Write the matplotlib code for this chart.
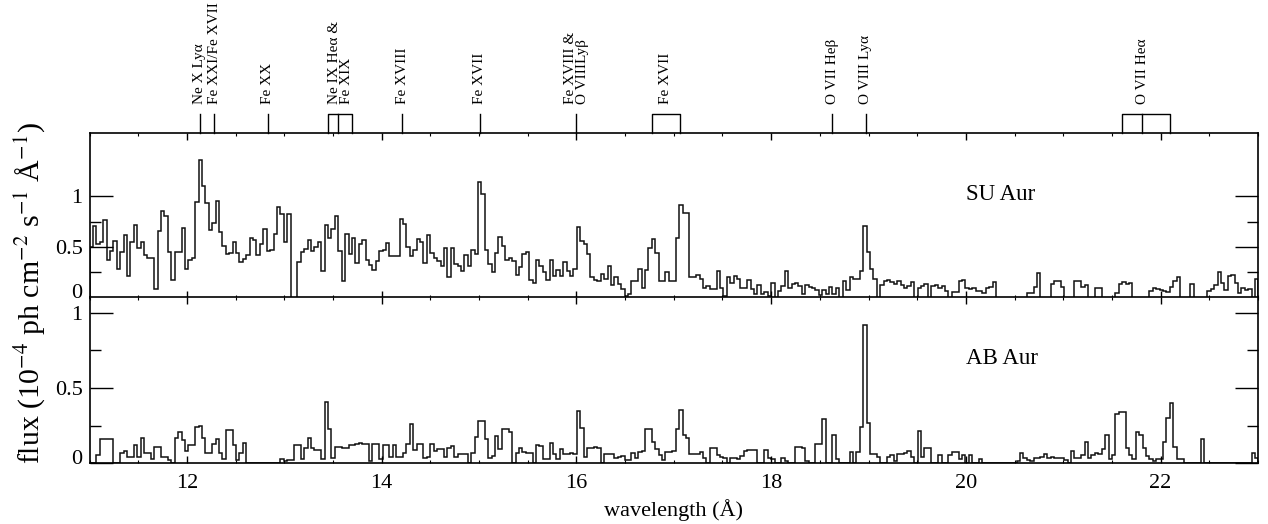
import numpy as np
import matplotlib
matplotlib.use("Agg")
import matplotlib.pyplot as plt
from matplotlib.ticker import FixedLocator, MultipleLocator
from matplotlib.transforms import ScaledTranslation

# RGS fluxed spectra, 10^-4 ph cm^-2 s^-1 A^-1, bins of 0.035 A starting at 11 A
bin_start = 11.0
bin_width = 0.035

su_aur = [
    0.50, 0.71, 0.53, 0.55, 0.77, 0.37, 0.46, 0.56, 0.28, 0.45,
    0.62, 0.21, 0.55, 0.72, 0.49, 0.55, 0.42, 0.39, 0.39, 0.08,
    0.66, 0.85, 0.81, 0.45, 0.17, 0.45, 0.45, 0.69, 0.28, 0.37,
    0.39, 0.94, 1.36, 1.10, 0.93, 0.67, 0.74, 0.95, 0.65, 0.51,
    0.43, 0.44, 0.55, 0.44, 0.35, 0.38, 0.42, 0.59, 0.57, 0.42,
    0.53, 0.68, 0.46, 0.47, 0.63, 0.89, 0.82, 0.55, 0.82, 0.00,
    0.00, 0.35, 0.45, 0.48, 0.57, 0.46, 0.50, 0.55, 0.26, 0.72,
    0.59, 0.68, 0.81, 0.46, 0.16, 0.63, 0.43, 0.59, 0.34, 0.53,
    0.57, 0.37, 0.32, 0.27, 0.36, 0.46, 0.47, 0.54, 0.41, 0.41,
    0.41, 0.78, 0.73, 0.50, 0.41, 0.47, 0.58, 0.55, 0.34, 0.62,
    0.44, 0.39, 0.36, 0.31, 0.49, 0.20, 0.49, 0.33, 0.31, 0.26,
    0.42, 0.31, 0.47, 0.43, 1.14, 1.02, 0.47, 0.33, 0.25, 0.44,
    0.60, 0.51, 0.37, 0.39, 0.36, 0.22, 0.30, 0.43, 0.45, 0.17,
    0.14, 0.37, 0.31, 0.25, 0.17, 0.37, 0.21, 0.27, 0.21, 0.35,
    0.26, 0.21, 0.28, 0.70, 0.56, 0.53, 0.43, 0.20, 0.17, 0.16,
    0.23, 0.18, 0.31, 0.12, 0.20, 0.13, 0.08, 0.01, 0.03, 0.16,
    0.16, 0.28, 0.09, 0.27, 0.49, 0.58, 0.44, 0.16, 0.16, 0.25,
    0.16, 0.16, 0.59, 0.91, 0.83, 0.83, 0.20, 0.20, 0.22, 0.18,
    0.09, 0.11, 0.08, 0.08, 0.26, 0.09, 0.01, 0.20, 0.14, 0.21,
    0.18, 0.09, 0.09, 0.17, 0.08, 0.03, 0.12, 0.03, 0.05, 0.01,
    0.14, 0.00, 0.06, 0.11, 0.26, 0.09, 0.13, 0.14, 0.11, 0.03,
    0.12, 0.10, 0.09, 0.07, 0.02, 0.07, 0.03, 0.10, 0.03, 0.09,
    0.00, 0.16, 0.07, 0.20, 0.18, 0.18, 0.26, 0.71, 0.45, 0.28,
    0.18, 0.00, 0.12, 0.16, 0.17, 0.15, 0.13, 0.16, 0.12, 0.09,
    0.11, 0.15, 0.00, 0.09, 0.11, 0.13, 0.00, 0.11, 0.12, 0.09,
    0.11, 0.06, 0.00, 0.05, 0.05, 0.16, 0.17, 0.09, 0.08, 0.09,
    0.06, 0.06, 0.04, 0.09, 0.10, 0.15, 0.00, 0.00, 0.00, 0.00,
    0.00, 0.00, 0.00, 0.00, 0.00, 0.04, 0.04, 0.10, 0.24, 0.00,
    0.00, 0.00, 0.13, 0.16, 0.16, 0.10, 0.00, 0.00, 0.00, 0.16,
    0.16, 0.10, 0.12, 0.00, 0.00, 0.09, 0.09, 0.00, 0.00, 0.00,
    0.00, 0.04, 0.13, 0.15, 0.13, 0.14, 0.00, 0.00, 0.00, 0.00,
    0.00, 0.06, 0.09, 0.08, 0.07, 0.06, 0.05, 0.10, 0.16, 0.20,
    0.00, 0.00, 0.00, 0.13, 0.00, 0.00, 0.00, 0.00, 0.06, 0.08,
    0.12, 0.25, 0.14, 0.07, 0.21, 0.22, 0.14, 0.04, 0.09, 0.07,
    0.08, 0.00, 0.18,
]

ab_aur = [
    0.00, 0.00, 0.055, 0.16, 0.16, 0.16, 0.16, 0.00, 0.00, 0.066,
    0.08, 0.04, 0.04, 0.12, 0.045, 0.17, 0.066, 0.066, 0.03, 0.11,
    0.11, 0.045, 0.045, 0.02, 0.00, 0.17, 0.21, 0.155, 0.08, 0.12,
    0.12, 0.24, 0.245, 0.165, 0.066, 0.066, 0.126, 0.16, 0.066, 0.03,
    0.22, 0.22, 0.12, 0.02, 0.066, 0.137, 0.00, 0.00, 0.00, 0.00,
    0.00, 0.00, 0.00, 0.00, 0.00, 0.00, 0.027, 0.015, 0.02, 0.02,
    0.12, 0.12, 0.027, 0.10, 0.17, 0.104, 0.088, 0.088, 0.027, 0.41,
    0.23, 0.033, 0.11, 0.11, 0.104, 0.10, 0.12, 0.12, 0.13, 0.137,
    0.13, 0.126, 0.015, 0.126, 0.126, 0.027, 0.12, 0.12, 0.044, 0.12,
    0.044, 0.044, 0.066, 0.126, 0.26, 0.088, 0.126, 0.126, 0.033, 0.044,
    0.126, 0.08, 0.095, 0.095, 0.044, 0.10, 0.117, 0.044, 0.06, 0.06,
    0.06, 0.00, 0.066, 0.177, 0.283, 0.283, 0.16, 0.033, 0.05, 0.18,
    0.095, 0.228, 0.228, 0.206, 0.00, 0.066, 0.10, 0.073, 0.066, 0.066,
    0.00, 0.12, 0.117, 0.029, 0.029, 0.133, 0.06, 0.029, 0.095, 0.06,
    0.06, 0.066, 0.06, 0.35, 0.237, 0.044, 0.104, 0.104, 0.11, 0.104,
    0.00, 0.06, 0.06, 0.06, 0.033, 0.04, 0.05, 0.022, 0.022, 0.066,
    0.033, 0.073, 0.08, 0.228, 0.228, 0.144, 0.095, 0.055, 0.022, 0.077,
    0.077, 0.08, 0.228, 0.354, 0.19, 0.17, 0.062, 0.06, 0.06, 0.073,
    0.033, 0.00, 0.104, 0.104, 0.055, 0.044, 0.033, 0.00, 0.038, 0.038,
    0.029, 0.05, 0.08, 0.088, 0.088, 0.088, 0.00, 0.00, 0.088, 0.033,
    0.027, 0.00, 0.00, 0.038, 0.015, 0.00, 0.00, 0.11, 0.11, 0.104,
    0.015, 0.00, 0.00, 0.126, 0.126, 0.294, 0.00, 0.00, 0.19, 0.027,
    0.00, 0.00, 0.00, 0.073, 0.00, 0.073, 0.243, 0.918, 0.27, 0.06,
    0.06, 0.044, 0.00, 0.00, 0.044, 0.055, 0.015, 0.06, 0.06, 0.066,
    0.08, 0.044, 0.00, 0.215, 0.044, 0.104, 0.104, 0.00, 0.00, 0.055,
    0.00, 0.00, 0.055, 0.077, 0.073, 0.027, 0.055, 0.00, 0.055, 0.00,
    0.00, 0.03, 0.00, 0.00, 0.00, 0.00, 0.00, 0.00, 0.00, 0.00,
    0.00, 0.00, 0.015, 0.066, 0.033, 0.022, 0.015, 0.033, 0.033, 0.044,
    0.06, 0.038, 0.044, 0.038, 0.033, 0.038, 0.022, 0.00, 0.08, 0.033,
    0.033, 0.055, 0.144, 0.033, 0.055, 0.066, 0.06, 0.095, 0.19, 0.03,
    0.055, 0.325, 0.343, 0.343, 0.104, 0.055, 0.027, 0.206, 0.188, 0.10,
    0.05, 0.029, 0.015, 0.027, 0.027, 0.144, 0.303, 0.40, 0.11, 0.027,
    0.027, 0.00, 0.00, 0.00, 0.00, 0.00, 0.16, 0.00, 0.00, 0.00,
    0.00, 0.00, 0.00, 0.00, 0.00, 0.00, 0.00, 0.00, 0.00, 0.00,
    0.00, 0.066, 0.033,
]

# line identifications above the top panel
line_labels = ["Ne X Lyα", "Fe XXI/Fe XVII", "Fe XX", "Ne IX Heα &\nFe XIX",
               "Fe XVIII", "Fe XVII", "Fe XVIII &\nO VIIILyβ", "Fe XVII",
               "O VII Heβ", "O VIII Lyα", "O VII Heα"]
label_pos = [12.134, 12.28, 12.83, 13.575, 14.21, 15.01, 16.00, 16.92,
             18.63, 18.97, 21.81]
single_lines = [12.134, 12.28, 12.83, 14.21, 15.01, 16.00, 18.63, 18.97]
line_boxes = [[13.45, 13.55, 13.70], [16.78, 17.06], [21.60, 21.81, 22.10]]

plt.rcParams["font.family"] = ["Liberation Serif", "DejaVu Serif"]
plt.rcParams["mathtext.fontset"] = "stix"

edges = bin_start + bin_width * np.arange(len(su_aur) + 1)

fig = plt.figure(figsize=(12.68, 5.24), dpi=100)
left, right = 89.5 / 1268, 1258 / 1268
ax1 = fig.add_axes([left, 1 - 297.5 / 524, right - left, 165 / 524])
ax2 = fig.add_axes([left, 1 - 463.3 / 524, right - left, 165.8 / 524])

ax1.stairs(su_aur, edges, color="#111111", lw=1.1)
ax2.stairs(ab_aur, edges, color="#111111", lw=1.1)

ax1.set_ylim(0, 1.63)
ax2.set_ylim(0, 1.10)

lift = ScaledTranslation(0, 0.06, fig.dpi_scale_trans)
for ax in (ax1, ax2):
    ax.set_xlim(11, 23)
    ax.xaxis.set_major_locator(MultipleLocator(2))
    ax.xaxis.set_minor_locator(MultipleLocator(0.5))
    ax.yaxis.set_major_locator(FixedLocator([0, 0.5, 1]))
    ax.yaxis.set_minor_locator(FixedLocator([0.25, 0.75]))
    ax.yaxis.set_major_formatter(plt.FuncFormatter(lambda v, p: "%g" % v))
    ax.tick_params(axis="x", which="major", direction="in", length=5, width=1,
                   top=True, bottom=True, labelsize=16, pad=8)
    ax.tick_params(axis="x", which="minor", direction="in", length=2.5,
                   width=0.8, top=True, bottom=True)
    ax.tick_params(axis="y", which="major", direction="in", length=16.5,
                   width=1, left=True, right=True, labelsize=16, pad=5)
    ax.tick_params(axis="y", which="minor", direction="in", length=8,
                   width=1, left=True, right=True)
    for s in ax.spines.values():
        s.set_linewidth(1.2)
    # the "0" labels sit a little above the baseline
    t0 = ax.yaxis.get_major_ticks()[0].label1
    t0.set_transform(t0.get_transform() + lift)

ax1.tick_params(axis="x", labelbottom=False)

ax1.text(20.0, 0.96, "SU Aur", fontsize=16.5, va="baseline")
ax2.text(20.0, 0.66, "AB Aur", fontsize=16.5, va="baseline")

# markers for the line identifications
tr = ax1.get_xaxis_transform()
y_top = 1.1145
for x in single_lines:
    ax1.plot([x, x], [1, y_top], color="black", lw=1.0, transform=tr,
             clip_on=False)
for b in line_boxes:
    ax1.plot([b[0], b[0], b[-1], b[-1]], [1, y_top, y_top, 1], color="black",
             lw=1.0, transform=tr, clip_on=False)
    for x in b[1:-1]:
        ax1.plot([x, x], [1, y_top], color="black", lw=1.0, transform=tr,
                 clip_on=False)
for name, x in zip(line_labels, label_pos):
    ax1.text(x, 1.172, name, rotation=90, fontsize=11, ha="center",
             va="bottom", multialignment="left", linespacing=0.9,
             transform=tr)

fig.text((89.5 + 1258) / 2 / 1268, 1 - 510 / 524, "wavelength (Å)",
         fontsize=16, ha="center", va="center")
fig.text(30 / 1268, 1 - 293 / 524,
         "flux (10$^{-4}$ ph cm$^{-2}$ s$^{-1}$ Å$^{-1}$)",
         fontsize=21.5, rotation=90, ha="center", va="center")

fig.savefig("out.png", dpi=100)
